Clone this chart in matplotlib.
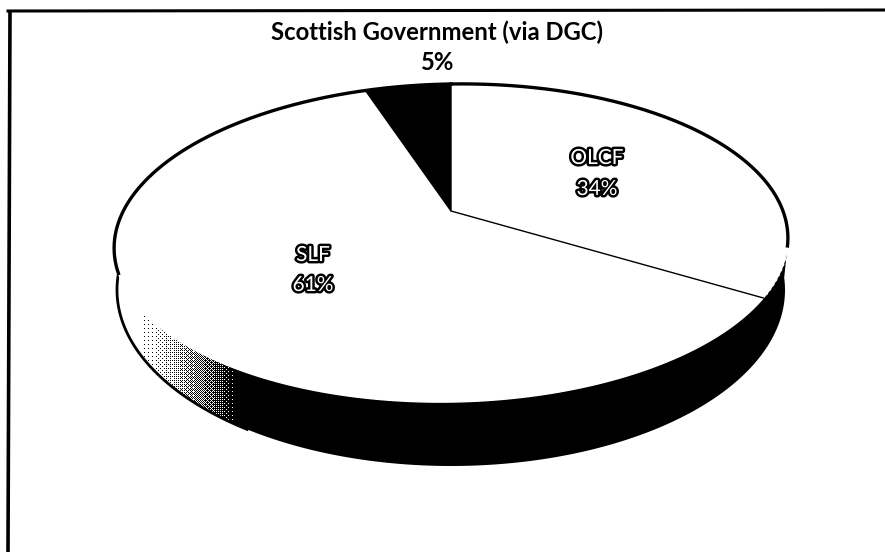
import numpy as np
import matplotlib
matplotlib.use('Agg')
import matplotlib.pyplot as plt
import matplotlib.patheffects as pe
from matplotlib.patches import Polygon

labels = ['OLCF', 'SLF', 'Scottish Government (via DGC)']
shares = [34, 61, 5]

W, H = 885, 552
CX, CY = 451, 211      # pie centre on the page
RX, RY = 330, 152.6    # radii before perspective
K = 0.2013             # perspective strength
TILT = 0.015
RIM_RX, RIM_RY, RIM_CY = 334, 176, 290   # lower edge of the side wall
FADE_START, FADE_END = 140, 238


def project(theta):
    # theta is clockwise from 12 o'clock, in degrees
    t = np.radians(theta)
    u, v = np.sin(t), -np.cos(t)
    d = 1 - K * v
    x = CX + RX * u / d
    return x, CY + RY * v / d - TILT * (x - CX)


def rim(a):
    # a in degrees: -90 is the top, 0 the right end, 90 the bottom, 180 the left end
    t = np.radians(a)
    return CX + RIM_RX * np.cos(t), RIM_CY + RIM_RY * np.sin(t)


fig = plt.figure(figsize=(W / 100, H / 100), dpi=100)
ax = fig.add_axes([0, 0, 1, 1])

# only the top and left edges of the frame survive in the scan
ax.plot([8, W], [11, 10], color='black', lw=2.2, solid_capstyle='projecting')
ax.plot([10, 8], [10, H], color='black', lw=2.6, solid_capstyle='butt')

theta = np.linspace(0, 360, 721)
x_face, y_face = project(theta)

# side wall, black on the right part; the last point sits under the top face
right_cut = np.argmax((theta > 60) & (y_face > 245))
a_split = np.degrees(np.arccos((FADE_END - CX) / RIM_RX))
x_rim, y_rim = rim(np.linspace(a_split, -4, 200))
ax.fill(np.r_[x_rim, x_face[right_cut], FADE_END], np.r_[y_rim, y_face[right_cut], RIM_CY],
        color='black', lw=0, zorder=1)

# stippled part of the wall, an ordered dither going from white to black
x_left, y_left = rim(np.linspace(a_split, 184, 100))
wall = Polygon(np.c_[np.r_[x_left, FADE_END], np.r_[y_left, RIM_CY]], closed=True,
               transform=ax.transData)
bayer = np.array([[0, 8, 2, 10], [12, 4, 14, 6], [3, 11, 1, 9], [15, 7, 13, 5]]) / 16
grid_x, grid_y = np.meshgrid(np.arange(110, 240), np.arange(250, 460))
level = np.clip((grid_x - FADE_START) / (FADE_END - FADE_START), 0, 1) ** 1.5
tile = bayer[grid_y % 4, grid_x % 4]
img = ax.imshow(level > tile, cmap='gray_r', vmin=0, vmax=1, extent=(110, 240, 460, 250),
                interpolation='nearest', aspect='auto', zorder=1)
img.set_clip_path(wall)

x_line, y_line = rim(np.linspace(a_split - 2, 186, 100))
ax.plot(x_line, y_line, color='black', lw=2.0, zorder=2)

# top face
ax.fill(x_face, y_face, color='white', zorder=4)

# outline above the points where the wall starts
left_part = (theta > 180) & (y_face < 274)
right_part = theta <= theta[right_cut]
ax.plot(x_face[left_part], y_face[left_part], color='black', lw=2.4, zorder=5)
ax.plot(x_face[right_part], y_face[right_part], color='black', lw=2.4, zorder=5)

# speckled bit where the face meets the wall on the right
ends = np.cumsum(shares) * 3.6
speck = (theta > theta[right_cut]) & (theta < ends[0])
ax.plot(x_face[speck], y_face[speck], color='white', lw=1.6, ls=(0, (1, 1.5)), zorder=5)

# slices, going clockwise from the top
x_a, y_a = project(ends[0])
ax.plot([CX, x_a], [CY, y_a], color='black', lw=1.0, zorder=6)
arc = np.linspace(ends[1], ends[2], 30)
x_arc, y_arc = project(arc)
ax.fill(np.r_[CX, x_arc], np.r_[CY, y_arc], color='black', zorder=6)

halo = [pe.withStroke(linewidth=3.5, foreground='black')]
small = dict(family='Lato', ha='center', va='center', fontsize=15, zorder=8,
             color='white', path_effects=halo)
ax.text(597, 158, labels[0], **small)
ax.text(597, 189, f'{shares[0]}%', **small)
ax.text(313, 255, labels[1], **small)
ax.text(313, 285, f'{shares[1]}%', **small)

big = dict(family='Lato', ha='center', va='center', fontsize=17.2, zorder=8,
           color='black', fontweight='bold')
ax.text(437, 32, labels[2], **big)
ax.text(437, 63, f'{shares[2]}%', **big)

ax.set_xlim(0, W)
ax.set_ylim(H, 0)
ax.axis('off')

fig.savefig('out.png', dpi=100)
